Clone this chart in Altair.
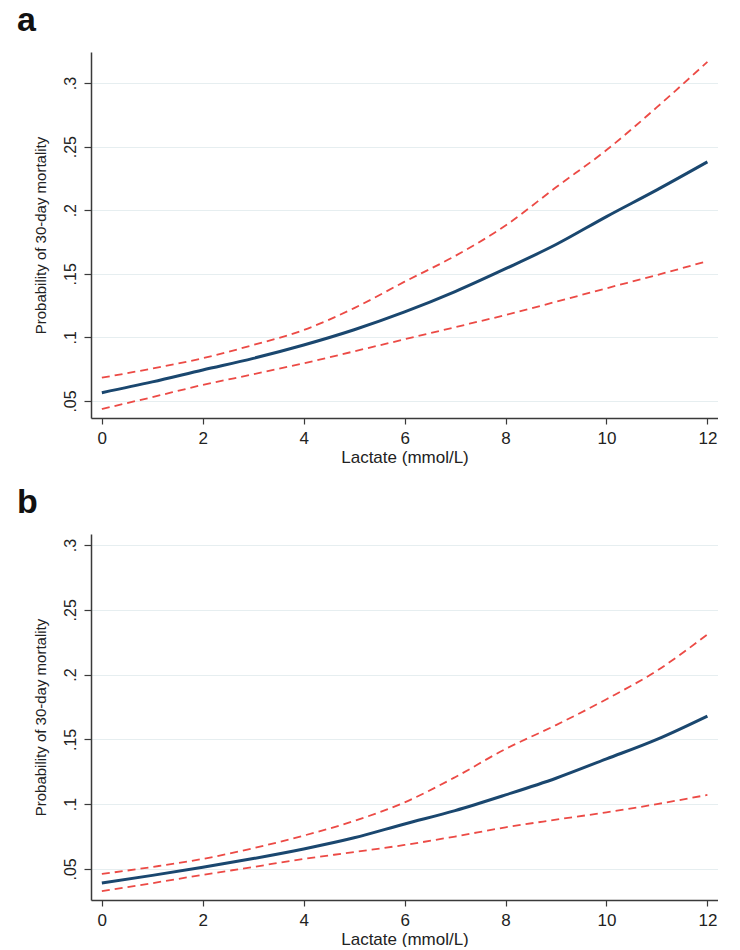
import altair as alt
import pandas as pd

lactate = [0, 1, 2, 3, 4, 5, 6, 7, 8, 9, 10, 11, 12]

a_mean = [0.0565, 0.065, 0.0744, 0.0835, 0.094, 0.106, 0.120, 0.136, 0.154, 0.173, 0.195, 0.216, 0.238]
a_upper = [0.0683, 0.0755, 0.0836, 0.094, 0.1058, 0.123, 0.1438, 0.164, 0.188, 0.218, 0.2473, 0.281, 0.3167]
a_lower = [0.0437, 0.053, 0.0626, 0.071, 0.0796, 0.089, 0.0985, 0.108, 0.1176, 0.128, 0.1386, 0.149, 0.160]

b_mean = [0.0392, 0.045, 0.0513, 0.058, 0.0654, 0.074, 0.0847, 0.095, 0.1071, 0.120, 0.1349, 0.150, 0.168]
b_upper = [0.0461, 0.0515, 0.0577, 0.066, 0.0757, 0.087, 0.1014, 0.1208, 0.1426, 0.161, 0.181, 0.203, 0.231]
b_lower = [0.0328, 0.039, 0.0454, 0.0515, 0.0577, 0.063, 0.0685, 0.075, 0.0821, 0.088, 0.0937, 0.100, 0.1071]

x_ticks = [0, 2, 4, 6, 8, 10, 12]
y_ticks = [0.05, 0.1, 0.15, 0.2, 0.25, 0.3]

FONT = "Liberation Sans"
NAVY = "#1a476f"
RED = "#ec4a45"
GRID = "#e6eef0"
AXIS = "#3a3a3a"


def panel(label, mean, upper, lower, ydomain, xdomain):
    df = pd.DataFrame({"lactate": lactate, "mean": mean, "upper": upper, "lower": lower})
    x = alt.X(
        "lactate:Q",
        scale=alt.Scale(domain=xdomain, nice=False, zero=False),
        axis=alt.Axis(
            values=x_ticks, title="Lactate (mmol/L)", grid=False,
            domainColor=AXIS, domainWidth=1.5, tickColor=AXIS, tickWidth=1.2, tickSize=6,
            labelFont=FONT, labelFontSize=17, labelColor="#222", labelPadding=6,
            titleFont=FONT, titleFontSize=17, titleFontWeight="normal", titleColor="#222",
            titlePadding=3,
        ),
    )
    yaxis = alt.Axis(
        values=y_ticks, title="Probability of 30-day mortality",
        labelExpr="substring(format(datum.value, '.2~f'), 1)",
        grid=True, gridColor=GRID, gridWidth=1.2,
        domainColor=AXIS, domainWidth=1.5, tickColor=AXIS, tickWidth=1.2, tickSize=7,
        labelAngle=270, labelAlign="center", labelBaseline="bottom", labelPadding=6,
        labelFont=FONT, labelFontSize=16, labelColor="#222",
        titleFont=FONT, titleFontSize=15, titleFontWeight="normal", titleColor="#222",
        titlePadding=14,
    )

    def yenc(field):
        return alt.Y(f"{field}:Q", scale=alt.Scale(domain=ydomain, nice=False, zero=False), axis=yaxis)

    base = alt.Chart(df)
    lo = base.mark_line(color=RED, strokeWidth=1.8, strokeDash=[8, 5], interpolate="monotone").encode(
        x=x, y=yenc("lower"))
    hi = base.mark_line(color=RED, strokeWidth=1.8, strokeDash=[8, 5], interpolate="monotone").encode(
        x=x, y=yenc("upper"))
    mn = base.mark_line(color=NAVY, strokeWidth=3, interpolate="monotone").encode(
        x=x, y=yenc("mean"))
    return alt.layer(lo, hi, mn).properties(
        width=627, height=366,
        title=alt.Title(text=label, anchor="start", frame="group", dx=-74, offset=14,
                        font=FONT, fontSize=34, fontWeight="bold", color="#111"),
    )


pa = panel("a", a_mean, a_upper, a_lower, [0.0366, 0.3244], [-0.215, 12.21])
pb = panel("b", b_mean, b_upper, b_lower, [0.026, 0.3085], [-0.215, 12.21])

chart = alt.vconcat(pa, pb, spacing=21).properties(
    padding={"left": 17, "top": 4, "right": 0, "bottom": 0},
    background="white",
).configure_view(stroke=None)

chart.save("out.html", embed_options={"renderer": "svg", "actions": False})
